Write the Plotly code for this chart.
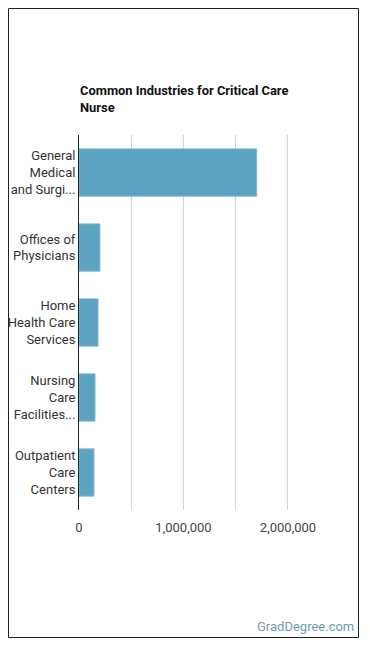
import plotly.graph_objects as go

categories = ["General<br>Medical<br>and Surgi...", "Offices of<br>Physicians", "Home<br>Health Care<br>Services",
              "Nursing<br>Care<br>Facilities...", "Outpatient<br>Care<br>Centers"]
values = [1700000, 200000, 182000, 153000, 143000]
tick_vals = [0, 1000000, 2000000]
tick_text = ["0", "1,000,000", "2,000,000"]

W, H = 370, 648
L, R, T, B = 79, 35, 135, 138
pw, ph = W - L - R, H - T - B

fig = go.Figure(go.Bar(
    x=values, y=categories, orientation="h",
    marker=dict(color="#5ba3c0", line=dict(color="#7fb6cc", width=1)),
    hoverinfo="x+y",
))

def px_x(p):
    return (p - L) / pw

def px_y(p):
    return 1 - (p - T) / ph

fig.update_layout(
    width=W, height=H,
    margin=dict(l=L, r=R, t=T, b=B),
    paper_bgcolor="white", plot_bgcolor="white",
    font=dict(family="Roboto", size=13, color="#333333"),
    bargap=0.37,
    showlegend=False,
    xaxis=dict(range=[0, 2450000], tickvals=tick_vals, ticktext=tick_text, automargin=False,
               showgrid=True, gridcolor="#d3d3d3", gridwidth=1, zeroline=False,
               minor=dict(dtick=500000, tick0=0, showgrid=True, gridcolor="#d3d3d3", gridwidth=1),
               tickfont=dict(size=13, color="#444444"), ticks="", ticklabelstandoff=8, fixedrange=True),
    yaxis=dict(autorange="reversed", showline=True, linecolor="#222222", linewidth=1, automargin=False,
               showgrid=False, ticks="", ticklabelstandoff=0,
               tickfont=dict(size=13, color="#333333"), fixedrange=True),
    shapes=[dict(type="rect", xref="paper", yref="paper",
                 x0=px_x(8.5), x1=px_x(358.5), y0=px_y(637.5), y1=px_y(8.5),
                 line=dict(color="#222222", width=1), fillcolor="rgba(0,0,0,0)", layer="below")],
    annotations=[
        dict(text="<b>Common Industries for Critical Care<br>Nurse</b>", xref="paper", yref="paper",
             x=px_x(78), y=px_y(81), xanchor="left", yanchor="top", align="left", showarrow=False,
             font=dict(size=12.9, color="#111111")),
        dict(text="GradDegree.com", xref="paper", yref="paper",
             x=px_x(356), y=px_y(626), xanchor="right", yanchor="middle", showarrow=False,
             font=dict(size=13, color="#6f9bb3")),
    ],
)

fig.write_html("out.html")
